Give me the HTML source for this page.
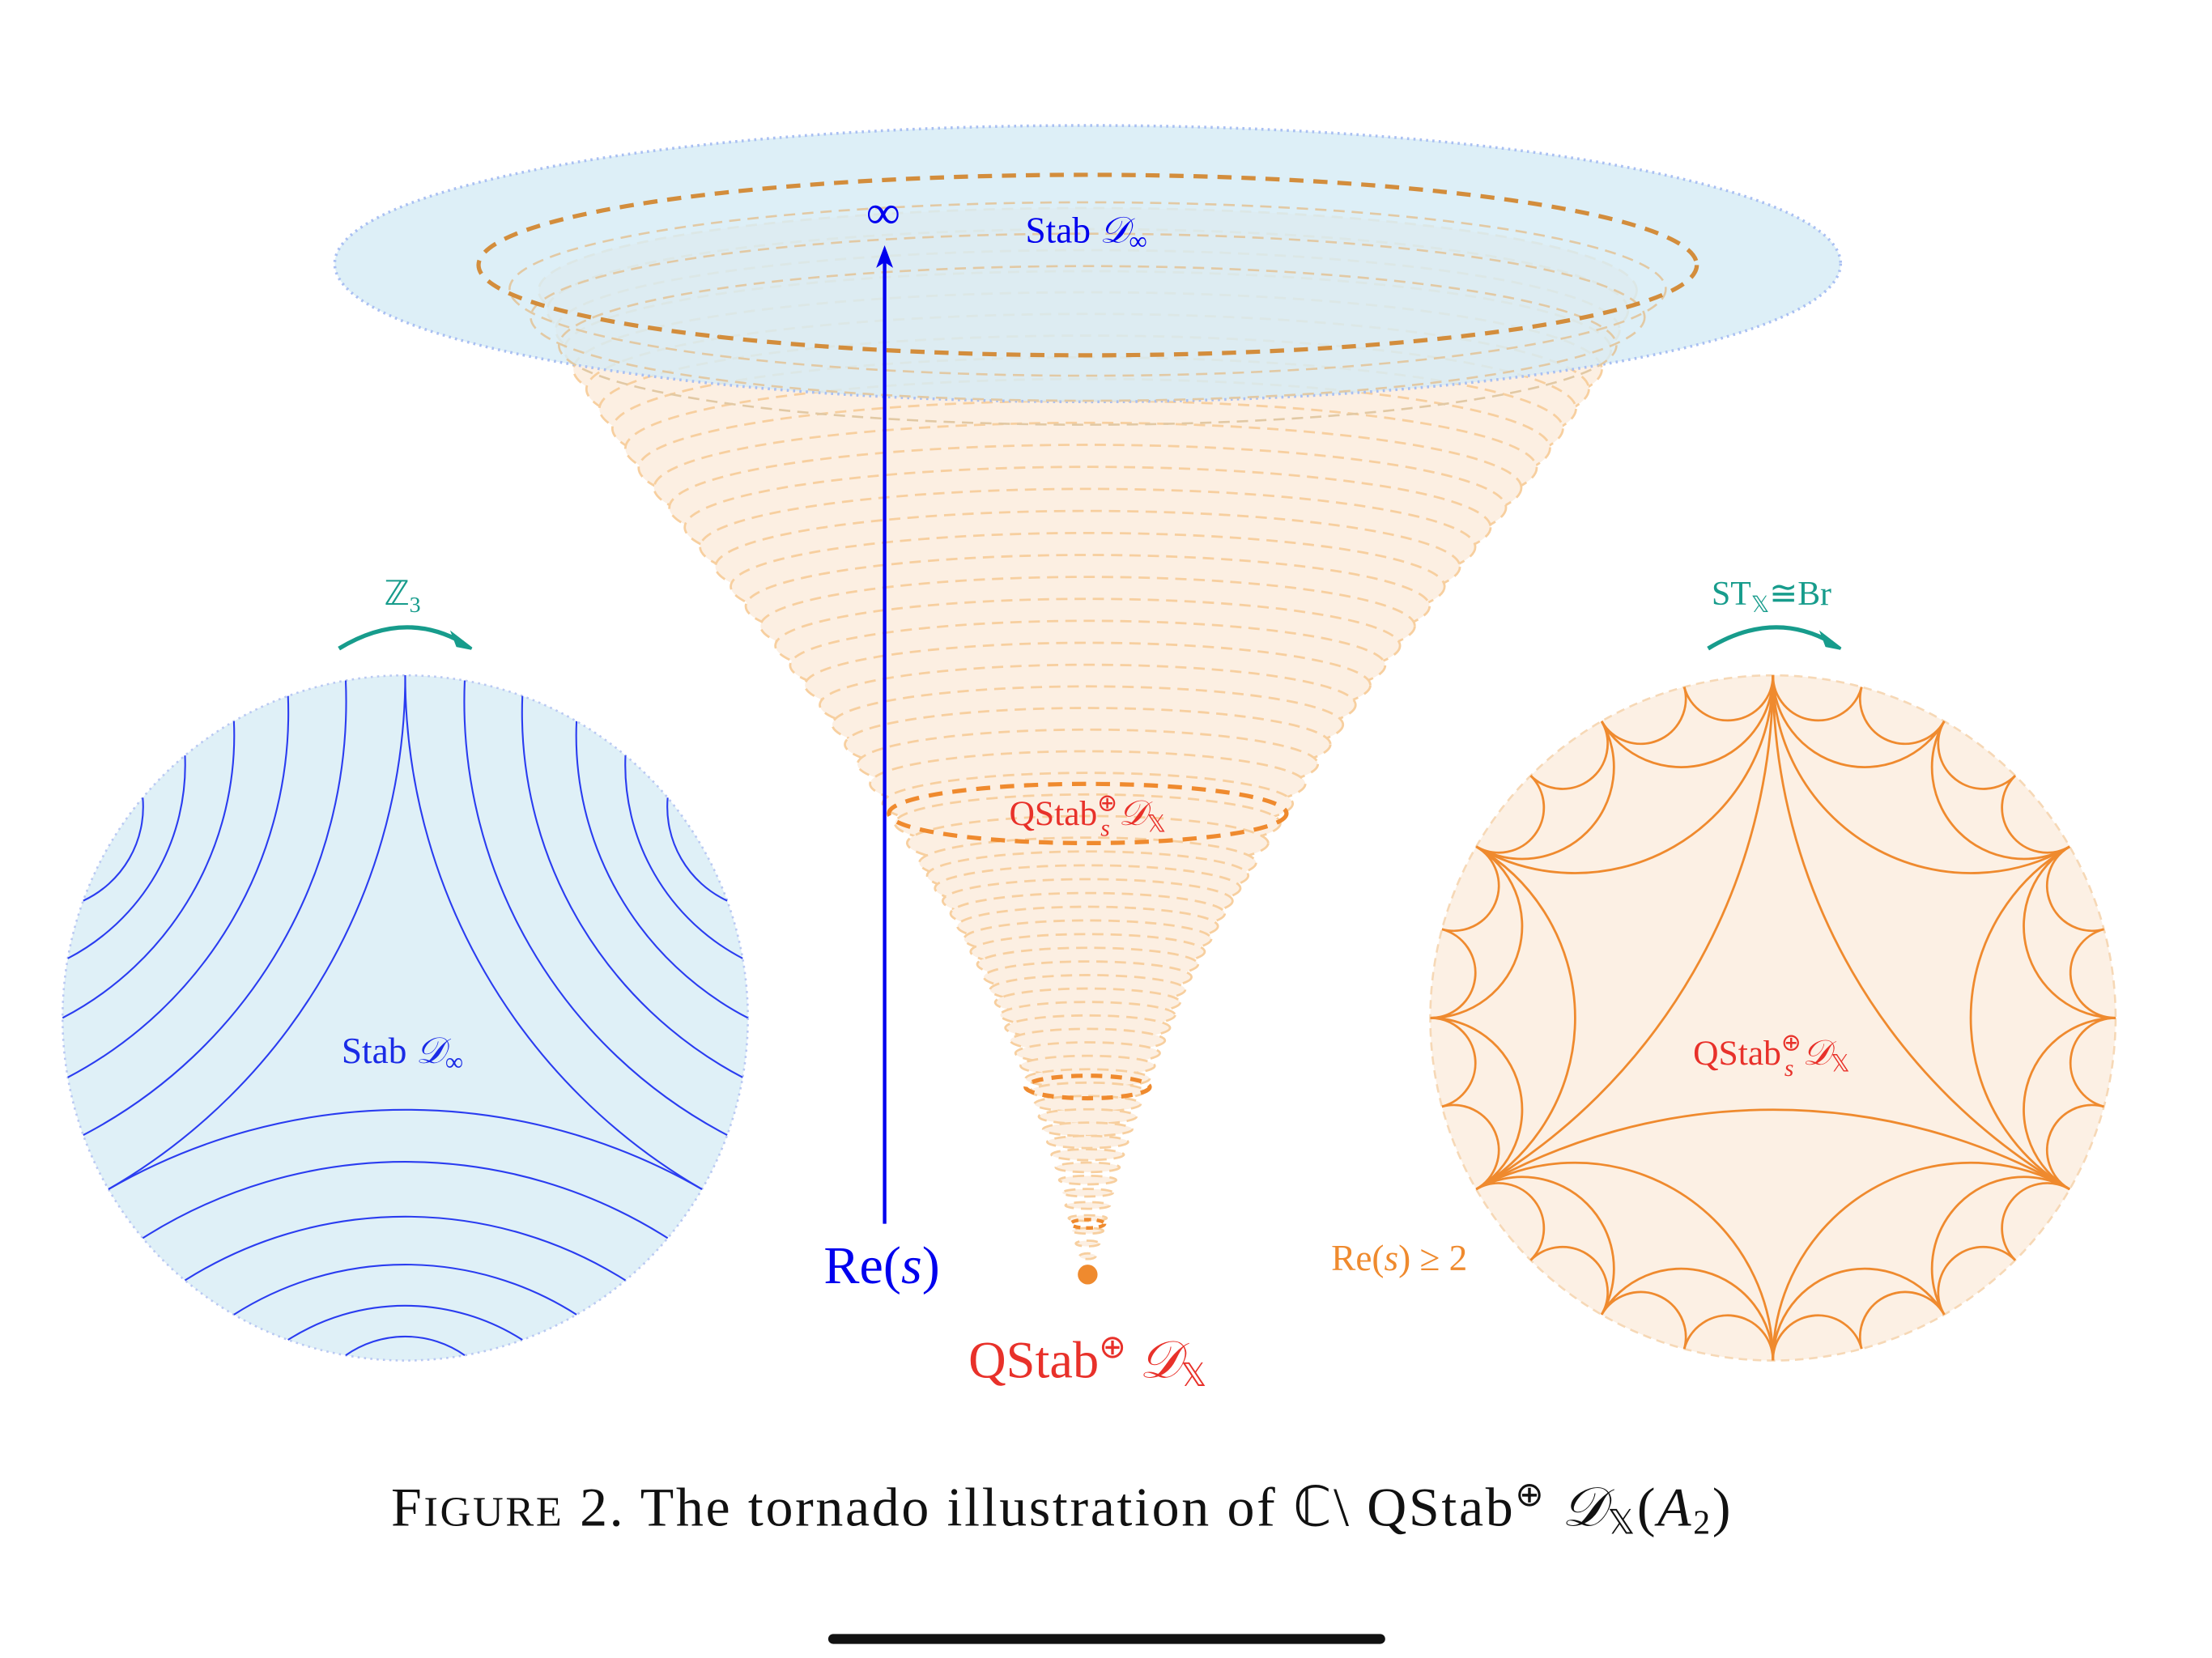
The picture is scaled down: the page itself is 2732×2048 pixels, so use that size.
<!DOCTYPE html>
<html><head><meta charset="utf-8">
<style>
html,body{margin:0;padding:0;background:#fff;}
svg{display:block;}
text{font-family:"Liberation Serif",serif;}
</style></head>
<body>
<svg id="fig" width="2732" height="2048" viewBox="0 0 1568 1176" xmlns="http://www.w3.org/2000/svg">
<g id="cone"></g>
<ellipse cx="771" cy="187" rx="534" ry="98" fill="#d6ebf5" fill-opacity="0.82" stroke="#a9bff2" stroke-width="2" stroke-dasharray="1.5 3"/>
<g id="innerTop"></g>
<ellipse cx="771" cy="188" rx="432" ry="64" fill="none" stroke="#d38d3c" stroke-width="3" stroke-dasharray="10 7"/>
<ellipse cx="771" cy="577" rx="141" ry="21" fill="none" stroke="#ef8a2e" stroke-width="3" stroke-dasharray="10 7"/>
<ellipse cx="771" cy="771" rx="44" ry="8" fill="none" stroke="#ef8a2e" stroke-width="3" stroke-dasharray="8 6"/>
<ellipse cx="771" cy="868" rx="12" ry="3" fill="none" stroke="#ef8a2e" stroke-width="2.5" stroke-dasharray="5 4"/>
<circle cx="771" cy="904" r="7" fill="#ef8a2e"/>
<line x1="627" y1="868" x2="627" y2="186" stroke="#0000ee" stroke-width="2.5"/>
<path d="M627 174 L621 190 L627 186 L633 190 Z" fill="#0000ee"/>
<text x="626" y="162" font-size="34" fill="#0000ee" text-anchor="middle">∞</text>
<text x="770" y="172" font-size="26" fill="#0000ee" text-anchor="middle">Stab <tspan font-style="italic">𝒟</tspan><tspan font-size="18" dy="5">∞</tspan></text>
<text x="771" y="585" font-size="25" fill="#e8312a" text-anchor="middle">QStab<tspan font-size="17" dy="-10">⊕</tspan><tspan font-size="17" dx="-12" dy="18" font-style="italic">s</tspan><tspan dy="-8" font-style="italic"> 𝒟</tspan><tspan font-size="17" dy="5">𝕏</tspan></text>
<text x="625" y="910" font-size="38" fill="#0000ee" text-anchor="middle">Re(<tspan font-style="italic">s</tspan>)</text>
<text x="771" y="977" font-size="37" fill="#e8312a" text-anchor="middle">QStab<tspan font-size="23" dy="-14">⊕</tspan><tspan dy="14" font-style="italic"> 𝒟</tspan><tspan font-size="23" dy="6">𝕏</tspan></text>
<text x="992" y="901" font-size="26" fill="#ef8a2e" text-anchor="middle">Re(<tspan font-style="italic">s</tspan>) ≥ 2</text>

<g>
<circle cx="287" cy="722" r="243" fill="#dff0f7" stroke="#b9c8f2" stroke-width="1.5" stroke-dasharray="1.5 3"/>
<g id="leftArcs"></g>
<text x="285" y="754" font-size="26" fill="#1a2be6" text-anchor="middle">Stab <tspan font-style="italic">𝒟</tspan><tspan font-size="18" dy="5">∞</tspan></text>
</g>
<g>
<circle cx="1257" cy="722" r="243" fill="#fcf0e4" stroke="#f6d8b6" stroke-width="1.5" stroke-dasharray="6 4"/>
<g id="rightArcs"></g>
<text x="1256" y="755" font-size="25" fill="#e8312a" text-anchor="middle">QStab<tspan font-size="17" dy="-10">⊕</tspan><tspan font-size="17" dx="-12" dy="18" font-style="italic">s</tspan><tspan dy="-8" font-style="italic"> 𝒟</tspan><tspan font-size="17" dy="5">𝕏</tspan></text>
</g>
<text x="285" y="429" font-size="24" fill="#179c8c" text-anchor="middle">ℤ<tspan font-size="16" dy="5">3</tspan></text>
<path d="M240 460 Q286 432 328 456" fill="none" stroke="#179c8c" stroke-width="3"/>
<path d="M334 460 L321 450 L324 458 Z" fill="#179c8c" stroke="#179c8c" stroke-width="2"/>
<text x="1256" y="429" font-size="24" fill="#179c8c" text-anchor="middle">ST<tspan font-size="16" dy="5">𝕏</tspan><tspan dy="-5">≅Br</tspan></text>
<path d="M1211 460 Q1257 432 1299 456" fill="none" stroke="#179c8c" stroke-width="3"/>
<path d="M1305 460 L1292 450 L1295 458 Z" fill="#179c8c" stroke="#179c8c" stroke-width="2"/>

<text x="277" y="1082" font-size="39" fill="#111" textLength="950" lengthAdjust="spacing"><tspan>F</tspan><tspan font-size="30">IGURE</tspan> 2.  The tornado illustration of ℂ\ QStab<tspan font-size="24" dy="-14">⊕</tspan><tspan dy="14" font-style="italic"> 𝒟</tspan><tspan font-size="24" dy="6">𝕏</tspan><tspan dy="-6">(</tspan><tspan font-style="italic">A</tspan><tspan font-size="24" dy="6">2</tspan><tspan dy="-6">)</tspan></text>
<rect x="587" y="1159" width="395" height="7" rx="3.5" fill="#111"/>
</svg>
<script>
const NS='http://www.w3.org/2000/svg';
// cone profile: vertical position -> half-width
const coneY=[200,260,330,420,500,577,650,700,770,830,870,900];
const coneRX=[392,366,320,250,190,141,96,70,42,22,12,3];
// left disk: half-angle spans of each curve, and apex distance (fraction of radius)
const leftD=[60,50,40,30,20,10];
const leftApex=[0.268,0.42,0.58,0.72,0.84,0.93];
const leftCenters=[270,30,150];
function rxAt(y){for(let i=0;i<coneY.length-1;i++){if(y>=coneY[i]&&y<=coneY[i+1]){const t=(y-coneY[i])/(coneY[i+1]-coneY[i]);return coneRX[i]+t*(coneRX[i+1]-coneRX[i]);}}return 3;}
const cone=document.getElementById('cone');
for(let y=206;y<=896;y+=(y<600?14:9)){
  const rx=rxAt(y);
  const e=document.createElementNS(NS,'ellipse');
  
  
  e.setAttribute('cx',771);e.setAttribute('cy',y);e.setAttribute('rx',rx);e.setAttribute('ry',Math.max(2,rx*0.15));
  e.setAttribute('fill','#fcefe2');e.setAttribute('stroke','#f7cf9f');e.setAttribute('stroke-width',1.6);
  e.setAttribute('stroke-dasharray','8 5');
  cone.appendChild(e);
}
const it=document.getElementById('innerTop');
[[205,410],[225,395],[245,375]].forEach(a=>{
  const e=document.createElementNS(NS,'ellipse');
  
  
  e.setAttribute('cx',771);e.setAttribute('cy',a[0]);e.setAttribute('rx',a[1]);e.setAttribute('ry',a[1]*0.15);
  e.setAttribute('fill','none');e.setAttribute('stroke','#e2c9a4');e.setAttribute('stroke-width',1.5);e.setAttribute('stroke-dasharray','8 5');
  it.appendChild(e);
});
function geo(cx,cy,R,a1,a2){
  const r1=a1*Math.PI/180,r2=a2*Math.PI/180;
  const x1=cx+R*Math.cos(r1),y1=cy-R*Math.sin(r1),x2=cx+R*Math.cos(r2),y2=cy-R*Math.sin(r2);
  const half=Math.abs(a2-a1)/2*Math.PI/180;
  const rr=R*Math.tan(half);
  return `M${x1.toFixed(2)} ${y1.toFixed(2)} A${rr.toFixed(2)} ${rr.toFixed(2)} 0 0 ${a2>a1?1:0} ${x2.toFixed(2)} ${y2.toFixed(2)}`;
}
function hyper(cx,cy,R,c,d,f){
  const r1=(c-d)*Math.PI/180,r2=(c+d)*Math.PI/180,dr=d*Math.PI/180;
  const x1=cx+R*Math.cos(r1),y1=cy-R*Math.sin(r1),x2=cx+R*Math.cos(r2),y2=cy-R*Math.sin(r2);
  const w=R*Math.sin(dr),h=R*Math.cos(dr),s=h-f*R;
  const rr=(w*w+s*s)/(2*s);
  return `M${x1.toFixed(2)} ${y1.toFixed(2)} A${rr.toFixed(2)} ${rr.toFixed(2)} 0 ${s>w?1:0} 1 ${x2.toFixed(2)} ${y2.toFixed(2)}`;
}
const la=document.getElementById('leftArcs');
leftCenters.forEach(c=>{leftD.forEach((d,i)=>{
  const p=document.createElementNS(NS,'path');
  
  
  p.setAttribute('d',hyper(287,722,243,c,d,leftApex[i]));
  p.setAttribute('fill','none');p.setAttribute('stroke','#2a3cf0');p.setAttribute('stroke-width',1.2);
  la.appendChild(p);
});});
const ra=document.getElementById('rightArcs');
function farey(a,b,depth){
  const p=document.createElementNS(NS,'path');
  
  
  p.setAttribute('d',geo(1257,722,243,a,b));
  p.setAttribute('fill','none');p.setAttribute('stroke','#ef8a2e');p.setAttribute('stroke-width',1.6);
  ra.appendChild(p);
  if(depth>0){const m=(a+b)/2;farey(a,m,depth-1);farey(m,b,depth-1);}
}
farey(90,210,3);farey(210,330,3);farey(330,450,3);
</script>
</body></html>
